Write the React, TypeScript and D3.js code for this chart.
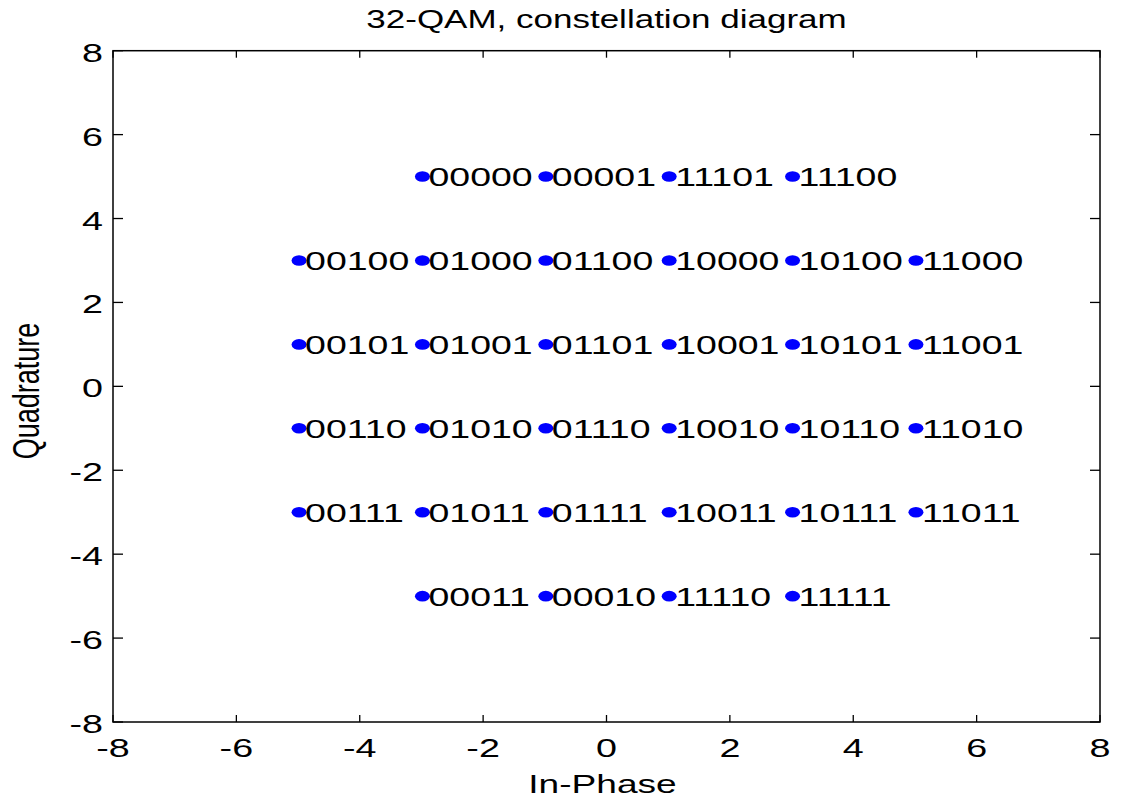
import React from "react";
import * as d3 from "d3";

// Constellation points (In-Phase, Quadrature) and their bit labels
const inPhase = [
  -3, -1, 1, 3,
  -5, -3, -1, 1, 3, 5,
  -5, -3, -1, 1, 3, 5,
  -5, -3, -1, 1, 3, 5,
  -5, -3, -1, 1, 3, 5,
  -3, -1, 1, 3,
];
const quadrature = [
  5, 5, 5, 5,
  3, 3, 3, 3, 3, 3,
  1, 1, 1, 1, 1, 1,
  -1, -1, -1, -1, -1, -1,
  -3, -3, -3, -3, -3, -3,
  -5, -5, -5, -5,
];
const bitLabels = [
  "00000", "00001", "11101", "11100",
  "00100", "01000", "01100", "10000", "10100", "11000",
  "00101", "01001", "01101", "10001", "10101", "11001",
  "00110", "01010", "01110", "10010", "10110", "11010",
  "00111", "01011", "01111", "10011", "10111", "11011",
  "00011", "00010", "11110", "11111",
];
const xTicks = [-8, -6, -4, -2, 0, 2, 4, 6, 8];
const yTicks = [-8, -6, -4, -2, 0, 2, 4, 6, 8];
const titleText = "32-QAM, constellation diagram";
const xLabelText = "In-Phase";
const yLabelText = "Quadrature";

const W = 1122;
const H = 802;
const L = 113;
const R = 1100;
const T = 50.7;
const B = 722;
const FONT = "'Liberation Sans', Arial, Helvetica, sans-serif";
const SX = 1.45;

export default function App() {
  const x = d3.scaleLinear().domain([-8, 8]).range([L, R]);
  const y = d3.scaleLinear().domain([-8, 8]).range([B, T]);

  const points = inPhase.map((v, i) => ({ i: v, q: quadrature[i], label: bitLabels[i] }));

  return (
    <svg
      width={W}
      height={H}
      style={{ position: "absolute", left: 0, top: 0, background: "#fff" }}
      fontFamily={FONT}
    >
      <rect x={0} y={0} width={W} height={H} fill="#fff" />
      {/* Axes box */}
      <rect x={L} y={T} width={R - L} height={B - T} fill="none" stroke="#000" strokeWidth={1.5} />

      {/* X ticks */}
      {xTicks.map((t) => (
        <g key={"xt" + t}>
          <line x1={x(t)} x2={x(t)} y1={B} y2={B - 7} stroke="#000" strokeWidth={1.3} />
          <line x1={x(t)} x2={x(t)} y1={T} y2={T + 7} stroke="#000" strokeWidth={1.3} />
          <g transform={`translate(${x(t)},${B + 35}) scale(${SX},1)`}>
            <text textAnchor="middle" fontSize={26} fill="#000">
              {t}
            </text>
          </g>
        </g>
      ))}

      {/* Y ticks */}
      {yTicks.map((t) => (
        <g key={"yt" + t}>
          <line x1={L} x2={L + 10} y1={y(t)} y2={y(t)} stroke="#000" strokeWidth={1.3} />
          <line x1={R} x2={R - 10} y1={y(t)} y2={y(t)} stroke="#000" strokeWidth={1.3} />
          <g transform={`translate(${L - 10},${y(t) + 11}) scale(${SX},1)`}>
            <text textAnchor="end" fontSize={26} fill="#000">
              {t}
            </text>
          </g>
        </g>
      ))}

      {/* Points and labels */}
      {points.map((p, k) => (
        <g key={"p" + k}>
          <ellipse cx={x(p.i) + 1} cy={y(p.q)} rx={7.5} ry={5.3} fill="#0000ff" />
          <g transform={`translate(${x(p.i) + 7},${y(p.q) + 9.5}) scale(1.5,1)`}>
            <text textAnchor="start" fontSize={25} fill="#000">
              {p.label}
            </text>
          </g>
        </g>
      ))}

      {/* Title */}
      <g transform={`translate(${(L + R) / 2},28) scale(1.4,1)`}>
        <text textAnchor="middle" fontSize={25} fill="#000">
          {titleText}
        </text>
      </g>

      {/* X label */}
      <g transform={`translate(${(L + R) / 2 - 4},793) scale(1.4,1)`}>
        <text textAnchor="middle" fontSize={26.5} fill="#000">
          {xLabelText}
        </text>
      </g>

      {/* Y label */}
      <g transform={`translate(39,391) scale(1.4,1) rotate(-90)`}>
        <text textAnchor="middle" fontSize={27} fill="#000">
          {yLabelText}
        </text>
      </g>
    </svg>
  );
}
